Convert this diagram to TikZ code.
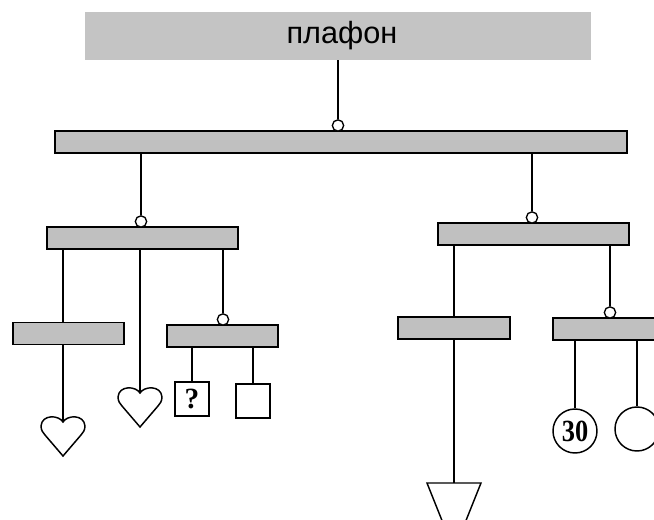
\documentclass[tikz,border=0pt]{standalone}
\usepackage{fontspec}
\setmainfont{Liberation Serif}
\newfontfamily\labelfont{Liberation Sans}
\definecolor{bargray}{RGB}{192,192,192}
\definecolor{ceilgray}{RGB}{196,196,196}
\tikzset{
  bar/.style={draw, fill=bargray, line width=1.2pt, minimum height=16.5pt, inner sep=0pt},
  hook/.style={draw, circle, fill=white, line width=1pt, minimum size=8.5pt, inner sep=0pt},
  rope/.style={line width=1.2pt},
  toy/.style={draw, fill=white, line width=1.1pt, inner sep=0pt},
  heart/.pic={\draw[line width=1.1pt] (0,0) .. controls (4,-7) and (21,-8) .. (22,4)
    .. controls (22,8) and (20,11) .. (18,13) -- (0,34) -- (-18,13)
    .. controls (-20,11) and (-22,8) .. (-22,4) .. controls (-21,-8) and (-4,-7) .. cycle;}
}
\begin{document}
\begin{tikzpicture}[x=0.75pt,y=-0.75pt]
        \useasboundingbox (0,0) rectangle (654,520);
        \clip (0,0) rectangle (654,520);
        \node[fill=ceilgray, minimum width=380pt, minimum height=36pt, font=\labelfont\fontsize{23}{26}\selectfont] at (338,36) (ceiling) {\hspace*{6pt}плафон};
        \node[bar, minimum width=429pt] at (341,142) (top) {};
        \node[hook] at (338,125.5) (h0) {};
        \node[bar, minimum width=143.25pt] at (142.5,238) (left) {};
        \node[hook] at (141,221.5) (h1) {};
        \node[bar, minimum width=143.25pt] at (533.5,234) (right) {};
        \node[hook] at (532,217.5) (h3) {};
        \node[bar, minimum width=83.25pt] at (68.5,333.5) (leftA) {};
        \node[bar, minimum width=83.25pt] at (222.5,336) (leftB) {};
        \node[hook] at (223,319.5) (h2) {};
        \node[bar, minimum width=84pt] at (454,328) (rightA) {};
        \node[bar, minimum width=83.25pt] at (608.5,329) (rightB) {};
        \node[hook] at (610,312.5) (h4) {};
        \coordinate (heartA) at (63,422);
        \coordinate (heartB) at (140,393);
        \node[toy, minimum size=25.5pt, font=\bfseries\fontsize{22}{24}\selectfont] at (192,399) (quest) {?};
        \node[toy, minimum size=25.5pt] at (253,401) (blank) {};
        \node[toy, circle, minimum size=33pt, font=\bfseries\fontsize{22}{24}\selectfont] at (575,431) (thirty) {\scalebox{0.9}[1.05]{30}};
        \node[toy, circle, minimum size=33pt] at (637,429) (ring) {};
        \coordinate (cone) at (454,483);
        \draw[rope] (ceiling) -- (h0);
        \draw[rope] (top.south -| h1) -- (h1);
        \draw[rope] (top.south -| h3) -- (h3);
        \draw[rope] (left.south -| heartA) -- (leftA.north -| heartA);
        \draw[rope] (leftA.south -| heartA) -- (heartA);
        \draw[rope] (left.south -| heartB) -- (heartB);
        \draw[rope] (left.south -| h2) -- (h2);
        \draw[rope] (leftB.south -| quest) -- (quest);
        \draw[rope] (leftB.south -| blank) -- (blank);
        \draw[rope] (right.south -| cone) -- (rightA.north -| cone);
        \draw[rope] (rightA.south -| cone) -- (cone);
        \draw[rope] (right.south -| h4) -- (h4);
        \draw[rope] (rightB.south -| thirty) -- (thirty);
        \draw[rope] (rightB.south -| ring) -- (ring);
        \pic at (heartA) {heart};
        \pic at (heartB) {heart};
        \draw[line width=1.1pt] (cone) ++(-27,0) -- ++(54,0) -- ++(-24,60) -- ++(-6,0) -- cycle;
      \end{tikzpicture}
\end{document}
